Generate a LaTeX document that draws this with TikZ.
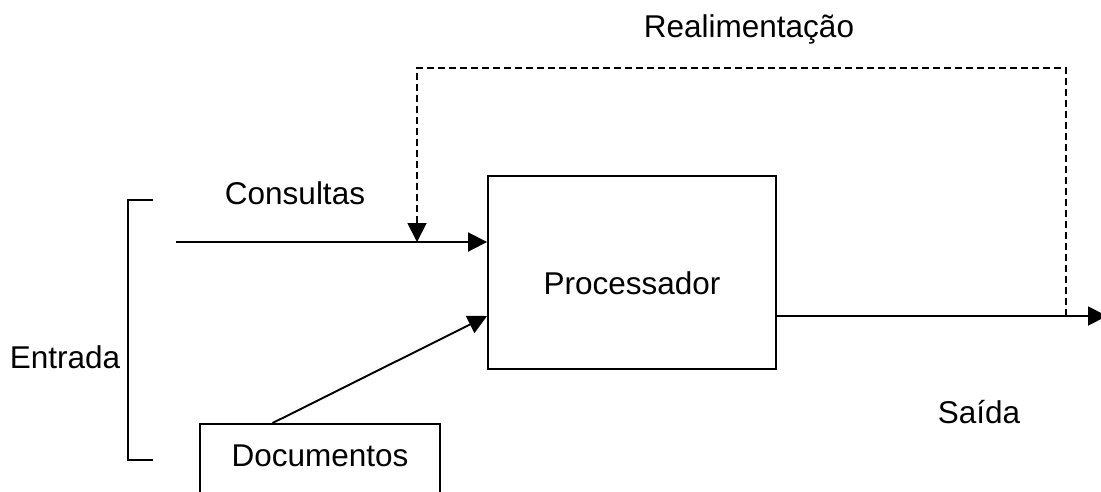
\documentclass[tikz,border=0pt]{standalone}
\usepackage{fontspec}
\setmainfont{Liberation Sans}
\usetikzlibrary{arrows.meta,
                calc,
                positioning}
\tikzset{
       arr/.style = {-{Triangle[length=19pt,width=19pt]}, line width=1.9pt},  % <--- filled arrow heads
     fbarr/.style = {arr, dash pattern=on 7pt off 4pt},
      base/.style = {draw, line width=1.9pt, inner sep=0pt,
                     font=\fontsize{31.5}{38}\selectfont, align=center},
   process/.style = {base, rectangle, minimum width=288pt,
                     text height=119pt, text depth=74pt},
      docbox/.style = {base, rectangle, minimum width=240pt,
                     text height=43pt, text depth=57pt},
       txt/.style = {font=\fontsize{31.5}{38}\selectfont, inner sep=0pt},
        }
\begin{document}
\begin{tikzpicture}[x=1pt,y=-1pt]
  \path[clip, use as bounding box] (0,0) rectangle (1101,491);
  % blocks
  \node[process, anchor=north] (proc) at (632,175) {Processador};
  \node[docbox, anchor=north]  (docs) at (320,423) {Documentos};
  % free ends
  \coordinate (cin)   at (176,242);
  \coordinate (junc)  at (417,242);
  \coordinate (saida) at (1107,316);
  \coordinate (fb)    at (1066,316);
  \coordinate (fbtop) at (1066,68);
  \coordinate (bt)    at (153,200);
  \coordinate (bb)    at (153,460);
  % connectors
  \draw[arr] (cin) -- (proc.west |- cin);
  \draw[arr] ($(docs.north west)!0.304!(docs.north east)$) -- (proc.west |- saida);
  \draw[arr] (proc.east |- saida) -- (saida);
  \draw[fbarr] (fb) -- (fbtop) -| (junc);
  % bracket
  \draw[line width=1.9pt] (bt) -- ++(-25,0) |- (bb);
  % labels
  \node[txt] (lcons) at (295,193) {Consultas};
  \node[txt] (lentr) at (65,357)  {Entrada};
  \node[txt] (lsai)  at (979,412) {Saída};
  \node[txt] (lreal) at (749,29)  {Realimentação};
\end{tikzpicture}
\end{document}
